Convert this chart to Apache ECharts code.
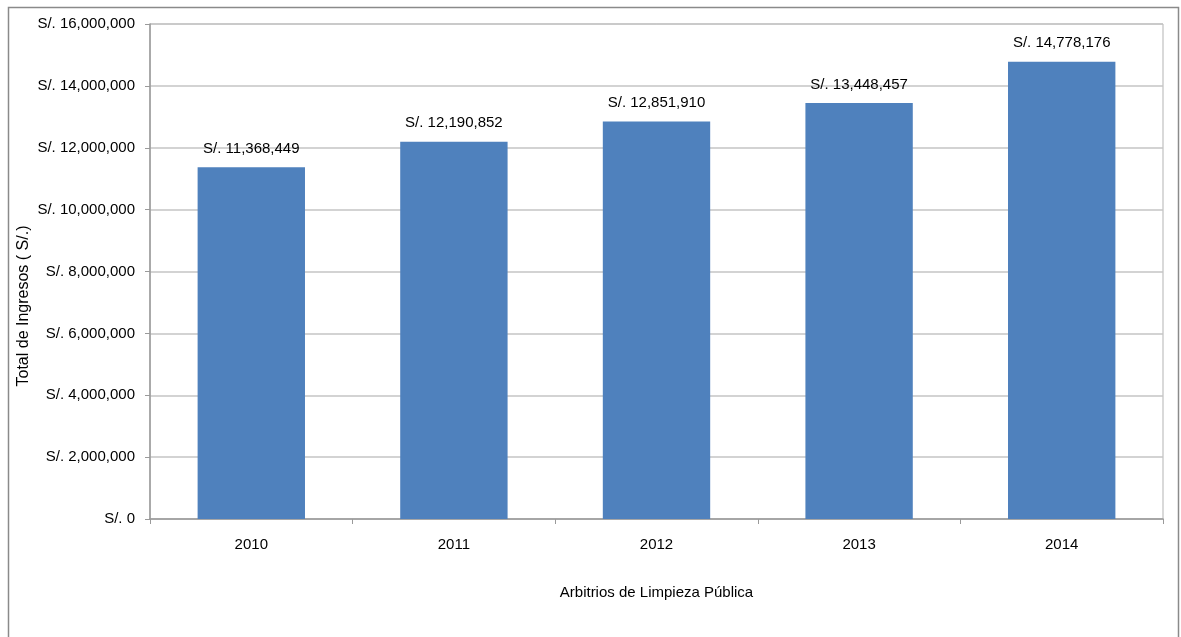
<!DOCTYPE html>
<html>
<head>
<meta charset="utf-8">
<script src="https://cdn.jsdelivr.net/npm/echarts@6/dist/echarts.min.js"></script>
<style>
html,body{margin:0;padding:0;background:#fff;}
#chart{width:1181px;height:637px;}
</style>
</head>
<body>
<div id="chart"></div>
<script>
const categories = ['2010', '2011', '2012', '2013', '2014'];
const ingresos = [11368449, 12190852, 12851910, 13448457, 14778176];
const yAxisTitle = 'Total de Ingresos ( S/.)';
const xAxisTitle = 'Arbitrios de Limpieza Pública';

function fmt(v) {
  return 'S/. ' + (v === 0 ? '0' : v.toLocaleString('en-US'));
}

const FONT = '"Liberation Sans", Arial, sans-serif';
const chart = echarts.init(document.getElementById('chart'), null, {renderer: 'canvas'});
chart.setOption({
  animation: false,
  backgroundColor: '#ffffff',
  textStyle: {fontFamily: FONT},
  grid: {left: 150, right: 18, top: 24, bottom: 118, show: true, borderColor: '#b3b3b3', borderWidth: 1, containLabel: false},
  graphic: [
    {type: 'rect', shape: {x: 8.5, y: 7.5, width: 1170, height: 700},
     style: {fill: 'none', stroke: '#8a8a8a', lineWidth: 1.5}, silent: true, z: -1},
    {type: 'text', x: 24, y: 306, rotation: Math.PI / 2,
     style: {text: yAxisTitle, font: '16px ' + FONT, fill: '#000', align: 'center', verticalAlign: 'middle'}}
  ],
  xAxis: {
    type: 'category',
    data: categories,
    name: xAxisTitle,
    nameLocation: 'middle',
    nameGap: 66,
    nameTextStyle: {fontSize: 15, color: '#000', fontFamily: FONT},
    axisLine: {lineStyle: {color: '#9a9a9a', width: 1.5}},
    axisTick: {show: true, alignWithLabel: false, length: 5, lineStyle: {color: '#9a9a9a'}},
    axisLabel: {fontSize: 15, color: '#000', margin: 18, fontFamily: FONT}
  },
  yAxis: {
    type: 'value',
    min: 0, max: 16000000, interval: 2000000,
    axisLine: {show: true, lineStyle: {color: '#9a9a9a', width: 1.5}},
    axisTick: {show: true, length: 5, lineStyle: {color: '#9a9a9a'}},
    axisLabel: {fontSize: 15, color: '#000', margin: 15, fontFamily: FONT, formatter: fmt},
    splitLine: {show: true, lineStyle: {color: '#c4c4c4', width: 1.5}}
  },
  series: [{
    type: 'bar',
    data: ingresos,
    barWidth: '53%',
    itemStyle: {color: '#4f81bd'},
    label: {show: true, position: 'top', distance: 11, fontSize: 15, color: '#000', fontFamily: FONT,
            formatter: p => fmt(p.value)}
  }]
});
</script>
</body>
</html>
